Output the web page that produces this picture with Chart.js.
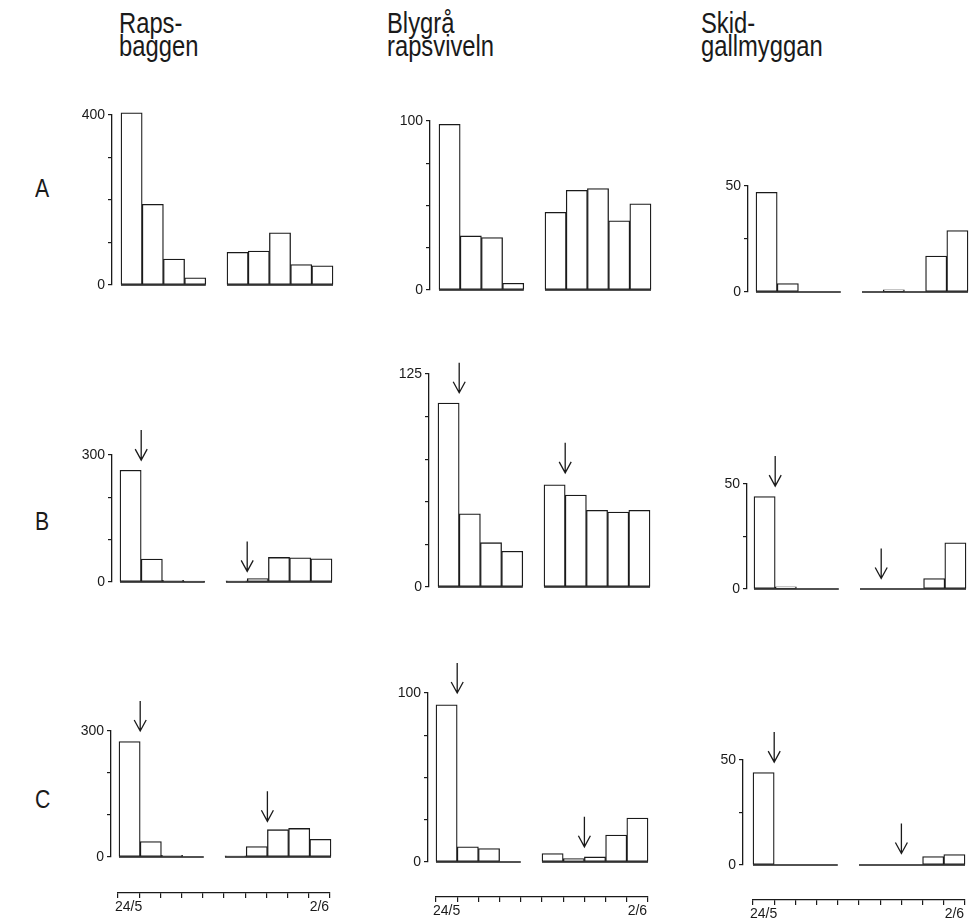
<!DOCTYPE html>
<html lang="sv">
<head>
<meta charset="UTF-8">
<title>Raps-baggen, Blygrå rapsviveln, Skidgallmyggan</title>
<script src="https://cdn.jsdelivr.net/npm/chart.js"></script>
<style>
  body { margin: 0; background: #fff; width: 970px; height: 923px; position: relative; overflow: hidden;
         font-family: "Liberation Sans", Arial, sans-serif; color: #1a1a1a; }
  canvas { position: absolute; }
  .head { position: absolute; top: 12px; font-size: 29px; line-height: 23px;
          transform: scaleX(0.82); transform-origin: left top; }
  .row { position: absolute; left: 35px; font-size: 25px; line-height: 25px;
         transform: scaleX(0.85); transform-origin: left top; }
</style>
</head>
<body>
<div class="head" style="left:119px">Raps-<br>baggen</div>
<div class="head" style="left:387px">Blygrå<br>rapsviveln</div>
<div class="head" style="left:701px">Skid-<br>gallmyggan</div>
<div class="row" style="top:176px">A</div>
<div class="row" style="top:509px">B</div>
<div class="row" style="top:787px">C</div>

<script>
// dagar 24/5 - 2/6, 28/5 saknas (null)
const days = ['24/5', '25/5', '26/5', '27/5', '28/5', '29/5', '30/5', '31/5', '1/6', '2/6'];

// A
const rapsA = [405, 190, 61, 17, null, 77, 80, 123, 48, 45];
const viveA = [98, 32, 31, 4, null, 46, 59, 60, 41, 51];
const myggA = [47, 4, 0, 0, null, 0, 1, 0, 17, 29];
// B
const rapsB = [264, 54, 4, 2, null, 3, 8, 58, 57, 55];
const viveB = [108, 43, 26, 21, null, 60, 54, 45, 44, 45];
const myggB = [44, 1, 0, 0, null, 0, 0, 0, 5, 22];
// C
const rapsC = [275, 37, 4, 0, null, 3, 25, 65, 68, 42];
const viveC = [93, 9, 8, 0, null, 5, 2, 3, 16, 26];
const myggC = [44, 0, 0, 0, null, 0, 0, 0, 4, 5];

// y-axel max per rad (A, B, C) och steg
const rapsMax = [400, 300, 300], rapsStep = 100;
const viveMax = [100, 125, 100], viveStep = 25;
const myggMax = [50, 50, 50], myggStep = 25;

// pilar: [dagposition, spetsens värde]
const rapsArrB = [[0.5, 288], [5.5, 25]];
const viveArrB = [[0.5, 114], [5.5, 67]];
const myggArrB = [[0.5, 49], [5.5, 5]];
const rapsArrC = [[0.5, 300], [6.5, 85]];
const viveArrC = [[0.5, 100], [6.5, 9]];
const myggArrC = [[0.5, 49], [6.5, 5.5]];

const ink = '#1a1a1a';
const FONT = '"Liberation Sans", Arial, sans-serif';
const SLOT = 21.2, AXIS_W = 46, PAD_TOP = 46, PAD_BOT = 12, PAD_R = 4;

// baslinje under varje grupp av staplar
const baseline = {
  id: 'baseline',
  afterDatasetsDraw(chart, args, opts) {
    const {ctx, scales: {x, y}} = chart;
    const vals = opts.values || [];
    const y0 = y.getPixelForValue(0);
    ctx.save();
    ctx.strokeStyle = ink;
    ctx.lineWidth = 1.3;
    ctx.beginPath();
    let s = null;
    for (let i = 0; i <= vals.length; i++) {
      if (i < vals.length && vals[i] !== null) {
        if (s === null) s = i;
      } else if (s !== null) {
        ctx.moveTo(x.getPixelForValue(s - 0.5), y0);
        ctx.lineTo(x.getPixelForValue(i - 0.5), y0);
        s = null;
      }
    }
    ctx.stroke();
    ctx.restore();
  }
};

const arrows = {
  id: 'arrows',
  afterDatasetsDraw(chart, args, opts) {
    const {ctx, scales: {x, y}} = chart;
    ctx.save();
    ctx.strokeStyle = ink;
    ctx.lineWidth = 1.3;
    (opts.list || []).forEach(a => {
      const px = x.getPixelForValue(a[0]);
      const py = y.getPixelForValue(a[1]);
      ctx.beginPath();
      ctx.moveTo(px, py - 30);
      ctx.lineTo(px, py);
      ctx.moveTo(px - 6, py - 11);
      ctx.lineTo(px, py);
      ctx.lineTo(px + 6, py - 11);
      ctx.stroke();
    });
    ctx.restore();
  }
};

function makePanel(p) {
  const cv = document.createElement('canvas');
  const gap = p.barStart - p.axisX;
  cv.width = AXIS_W + gap + 10 * SLOT + PAD_R;
  cv.height = PAD_TOP + (p.yZero - p.yTop) + PAD_BOT;
  cv.style.left = (p.axisX - AXIS_W) + 'px';
  cv.style.top = (p.yTop - PAD_TOP) + 'px';
  document.body.appendChild(cv);

  const pts = [];
  p.values.forEach((v, i) => { if (v !== null) pts.push({x: i, y: v}); });

  new Chart(cv, {
    type: 'bar',
    data: {
      datasets: [{
        data: pts,
        backgroundColor: '#fff',
        borderColor: ink,
        borderWidth: 1.3,
        borderSkipped: false,
        barPercentage: 1,
        categoryPercentage: 1,
        clip: false
      }]
    },
    options: {
      responsive: false,
      animation: false,
      layout: {padding: {top: PAD_TOP, bottom: PAD_BOT, right: PAD_R, left: 0}},
      plugins: {
        legend: {display: false},
        tooltip: {enabled: false},
        baseline: {values: p.values},
        arrows: {list: p.arrows || []}
      },
      scales: {
        x: {
          type: 'linear',
          display: false,
          offset: false,
          min: -0.5 - gap / SLOT,
          max: 9.5,
          afterBuildTicks: s => { s.ticks = p.values.map((v, i) => ({value: i})); }
        },
        y: {
          min: 0,
          max: p.max,
          afterFit: s => { s.width = AXIS_W; },
          border: {display: true, color: ink, width: 1.3},
          grid: {drawOnChartArea: false, drawTicks: true, tickLength: 4, color: ink, lineWidth: 1.2},
          ticks: {
            stepSize: p.step,
            color: ink,
            padding: 3,
            font: {family: FONT, size: 14},
            callback: (v, i, t) => (i === 0 || i === t.length - 1) ? v : ''
          }
        }
      }
    },
    plugins: [baseline, arrows]
  });
}

function makeDateAxis(barStart, lineY) {
  const cv = document.createElement('canvas');
  cv.width = 10 * SLOT + 20;
  cv.height = 28;
  cv.style.left = (barStart - 10) + 'px';
  cv.style.top = (lineY - 2) + 'px';
  document.body.appendChild(cv);
  new Chart(cv, {
    type: 'bar',
    data: {labels: days, datasets: []},
    options: {
      responsive: false,
      animation: false,
      layout: {padding: {left: 10, right: 10, top: 0, bottom: 0}},
      plugins: {legend: {display: false}, tooltip: {enabled: false}},
      scales: {
        x: {
          offset: true,
          afterFit: s => { s.height = 26; },
          border: {display: true, color: ink, width: 1.3},
          grid: {offset: true, drawOnChartArea: false, tickLength: 5, color: ink, lineWidth: 1.2},
          ticks: {
            autoSkip: false,
            maxRotation: 0,
            padding: 1,
            color: ink,
            font: {family: FONT, size: 14},
            callback: (v, i) => (i === 0 || i === days.length - 1) ? days[i] : ''
          }
        },
        y: {display: false}
      }
    }
  });
}

// placering av panelerna på sidan
makePanel({values: rapsA, max: rapsMax[0], step: rapsStep, axisX: 112, yTop: 115, yZero: 285, barStart: 121});
makePanel({values: viveA, max: viveMax[0], step: viveStep, axisX: 430, yTop: 121, yZero: 290, barStart: 439});
makePanel({values: myggA, max: myggMax[0], step: myggStep, axisX: 748, yTop: 186, yZero: 292, barStart: 756});

makePanel({values: rapsB, max: rapsMax[1], step: rapsStep, axisX: 112, yTop: 455, yZero: 582, barStart: 120, arrows: rapsArrB});
makePanel({values: viveB, max: viveMax[1], step: viveStep, axisX: 429, yTop: 374, yZero: 587, barStart: 438, arrows: viveArrB});
makePanel({values: myggB, max: myggMax[1], step: myggStep, axisX: 747, yTop: 484, yZero: 589, barStart: 754, arrows: myggArrB});

makePanel({values: rapsC, max: rapsMax[2], step: rapsStep, axisX: 111, yTop: 731, yZero: 857, barStart: 119, arrows: rapsArrC});
makePanel({values: viveC, max: viveMax[2], step: viveStep, axisX: 428, yTop: 693, yZero: 862, barStart: 436, arrows: viveArrC});
makePanel({values: myggC, max: myggMax[2], step: myggStep, axisX: 743, yTop: 760, yZero: 865, barStart: 753, arrows: myggArrC});

makeDateAxis(118, 893);
makeDateAxis(436, 897);
makeDateAxis(753, 900);
</script>
</body>
</html>
